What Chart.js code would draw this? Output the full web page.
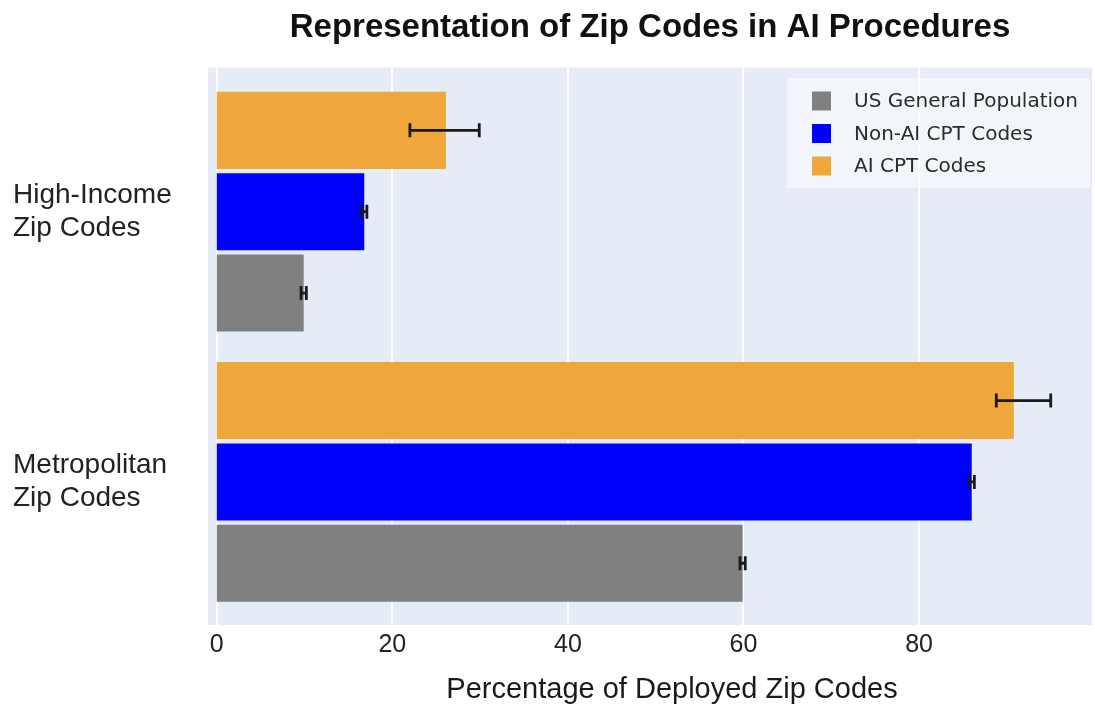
<!DOCTYPE html>
<html>
<head>
<meta charset="utf-8">
<script src="https://cdn.jsdelivr.net/npm/chart.js@4/dist/chart.umd.min.js"></script>
<style>
  html, body { margin: 0; padding: 0; background: #fff; }
  #wrap { width: 1095px; height: 706px; }
</style>
</head>
<body>
<div id="wrap"><canvas id="zipChart" width="1095" height="706"></canvas></div>
<script>
// data
var categories = [["High-Income", "Zip Codes"], ["Metropolitan", "Zip Codes"]];
var seriesNames = ["AI CPT Codes", "Non-AI CPT Codes", "US General Population"];
var aiValues = [26.1, 90.8];
var aiLow = [22.0, 88.8];
var aiHigh = [29.9, 95.0];
var nonAiValues = [16.8, 86.0];
var nonAiLow = [16.5, 85.7];
var nonAiHigh = [17.1, 86.3];
var usValues = [9.9, 59.9];
var usLow = [9.6, 59.6];
var usHigh = [10.2, 60.2];
var tickValues = [0, 20, 40, 60, 80];
var barColors = ["#efa73c", "#0000ff", "#808080"];

var sansFont = "'Liberation Sans', Arial, sans-serif";

// plot background + white vertical gridlines
var plotBackground = {
  id: "plotBackground",
  beforeDatasetsDraw: function (chart) {
    var ctx = chart.ctx;
    var a = chart.chartArea;
    var xs = chart.scales.x;
    ctx.save();
    ctx.fillStyle = "#e5ecf6";
    ctx.fillRect(a.left, a.top - 9, a.right - a.left, a.bottom - a.top + 17);
    ctx.strokeStyle = "#ffffff";
    ctx.lineWidth = 2;
    xs.ticks.forEach(function (t) {
      var px = Math.round(xs.getPixelForValue(t.value));
      ctx.beginPath();
      ctx.moveTo(px, a.top - 9);
      ctx.lineTo(px, a.bottom + 8);
      ctx.stroke();
    });
    ctx.restore();
  }
};

// black error bars with caps
var errorBars = {
  id: "errorBars",
  afterDatasetsDraw: function (chart) {
    var ctx = chart.ctx;
    var xs = chart.scales.x;
    ctx.save();
    ctx.strokeStyle = "#1a1a1a";
    ctx.lineWidth = 2.8;
    chart.data.datasets.forEach(function (ds, i) {
      var meta = chart.getDatasetMeta(i);
      meta.data.forEach(function (bar, j) {
        var x1 = xs.getPixelForValue(ds.errLow[j]);
        var x2 = xs.getPixelForValue(ds.errHigh[j]);
        var y = bar.y;
        ctx.beginPath();
        ctx.moveTo(x1, y);
        ctx.lineTo(x2, y);
        ctx.moveTo(x1, y - 7);
        ctx.lineTo(x1, y + 7);
        ctx.moveTo(x2, y - 7);
        ctx.lineTo(x2, y + 7);
        ctx.stroke();
      });
    });
    ctx.restore();
  }
};

// legend box inside the plot, top right
var legendBox = {
  id: "legendBox",
  afterDraw: function (chart) {
    var ctx = chart.ctx;
    ctx.save();
    ctx.fillStyle = "rgba(255,255,255,0.5)";
    ctx.fillRect(787, 78, 303, 110);
    ctx.font = "20px 'DejaVu Sans', Verdana, sans-serif";
    ctx.textBaseline = "middle";
    ctx.textAlign = "left";
    var items = chart.data.datasets.slice().reverse();
    for (var k = 0; k < items.length; k++) {
      var cy = 101 + k * 32.5;
      ctx.fillStyle = items[k].backgroundColor;
      ctx.fillRect(812, cy - 9.5, 19, 19);
      ctx.fillStyle = "#2b2b2b";
      ctx.fillText(items[k].label, 854, cy + 1);
    }
    ctx.restore();
  }
};

// x axis title
var axisTitle = {
  id: "axisTitle",
  afterDraw: function (chart) {
    var ctx = chart.ctx;
    ctx.save();
    ctx.font = "29px " + sansFont;
    ctx.fillStyle = "#1a1a1a";
    ctx.textAlign = "center";
    ctx.textBaseline = "alphabetic";
    ctx.fillText("Percentage of Deployed Zip Codes", 672, 698);
    ctx.restore();
  }
};

var ctx = document.getElementById("zipChart").getContext("2d");
var zipChart = new Chart(ctx, {
  type: "bar",
  data: {
    labels: categories,
    datasets: [
      { label: seriesNames[0], data: aiValues, errLow: aiLow, errHigh: aiHigh, backgroundColor: barColors[0] },
      { label: seriesNames[1], data: nonAiValues, errLow: nonAiLow, errHigh: nonAiHigh, backgroundColor: barColors[1] },
      { label: seriesNames[2], data: usValues, errLow: usLow, errHigh: usHigh, backgroundColor: barColors[2] }
    ]
  },
  options: {
    responsive: false,
    animation: false,
    devicePixelRatio: 1,
    indexAxis: "y",
    categoryPercentage: 0.903,
    barPercentage: 0.947,
    layout: { padding: { left: 13, right: 3, top: 0, bottom: 0 } },
    plugins: {
      legend: { display: false },
      tooltip: { enabled: false },
      title: {
        display: true,
        fullSize: false,
        text: "Representation of Zip Codes in AI Procedures",
        color: "#111111",
        font: { family: sansFont, size: 33, weight: "bold" },
        padding: { top: 8, bottom: 29 }
      }
    },
    scales: {
      x: {
        min: -1,
        max: 99.7,
        grid: { display: false, drawTicks: false },
        border: { display: false },
        afterBuildTicks: function (scale) {
          scale.ticks = tickValues.map(function (v) { return { value: v }; });
        },
        afterFit: function (scale) { scale.height = 89; },
        ticks: {
          color: "#222222",
          padding: 13,
          maxRotation: 0,
          font: { family: sansFont, size: 25 }
        }
      },
      y: {
        grid: { display: false, drawTicks: false },
        border: { display: false },
        afterFit: function (scale) { scale.width = 195; },
        ticks: {
          color: "#222222",
          crossAlign: "far",
          padding: 0,
          font: { family: sansFont, size: 28 }
        }
      }
    }
  },
  plugins: [plotBackground, errorBars, legendBox, axisTitle]
});
</script>
</body>
</html>
